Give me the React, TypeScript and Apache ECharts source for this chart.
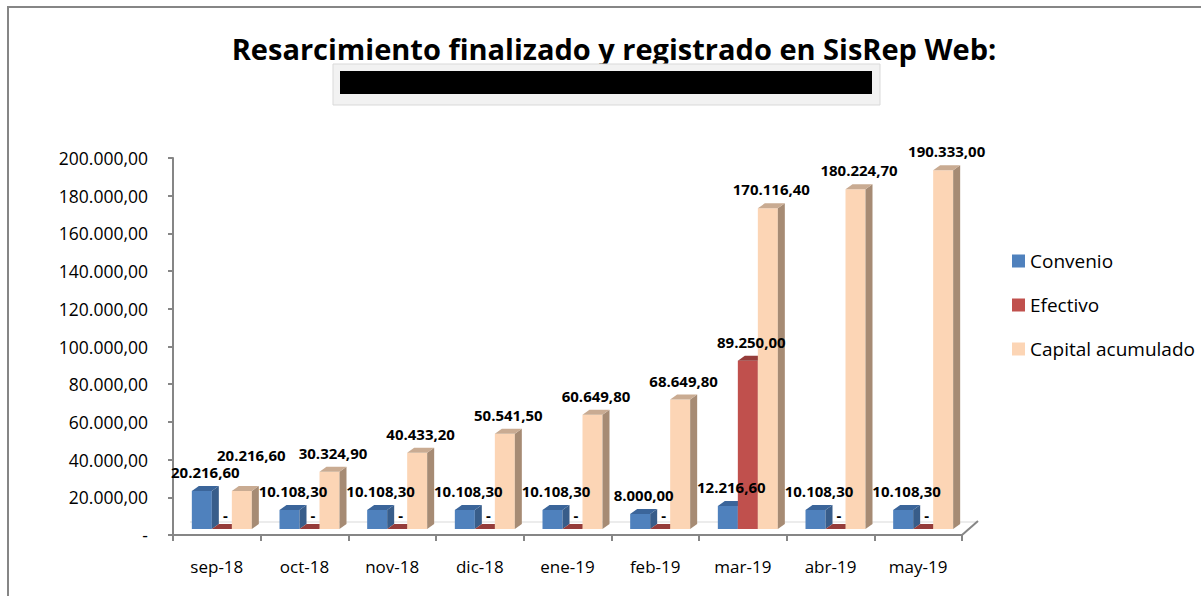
import React, { useEffect, useRef } from "react";
import * as echarts from "echarts";

const categories = ["sep-18", "oct-18", "nov-18", "dic-18", "ene-19", "feb-19", "mar-19", "abr-19", "may-19"];
const convenio = [20216.6, 10108.3, 10108.3, 10108.3, 10108.3, 8000, 12216.6, 10108.3, 10108.3];
const efectivo = [0, 0, 0, 0, 0, 0, 89250, 0, 0];
const capital = [20216.6, 30324.9, 40433.2, 50541.5, 60649.8, 68649.8, 170116.4, 180224.7, 190333];
const seriesNames = ["Convenio", "Efectivo", "Capital acumulado"];

const TITLE = "Resarcimiento finalizado y registrado en SisRep Web:";

const COLORS = [
  { front: "#4F81BD", side: "#385D8A", top: "#3B659A" },
  { front: "#C0504D", side: "#8C3A38", top: "#953C3A" },
  { front: "#FCD5B5", side: "#A68B74", top: "#C9AB92" },
];

const FONT = "'Open Sans', 'Noto Sans', sans-serif";

function fmt(v: number): string {
  if (v === 0) return "-";
  const neg = v < 0;
  const abs = Math.abs(v);
  const fixed = abs.toFixed(2);
  const [intPart, dec] = fixed.split(".");
  const withDots = intPart.replace(/\B(?=(\d{3})+(?!\d))/g, ".");
  return (neg ? "-" : "") + withDots + "," + dec;
}

const BAR_W = 20;
const BAR_OFF = -25;
const LIFT = 6;
const DX = 7;
const DY = 5;
const LABEL_GAP = 19;
const ZERO_LABEL_GAP = 14;

function makeRender(s: number) {
  const col = COLORS[s];
  return (params: any, api: any) => {
    const i = api.value(0);
    const v = api.value(1);
    const base = api.coord([i, 0]);
    const topPt = api.coord([i, v]);
    const cx = base[0];
    const x0 = cx + BAR_OFF + s * BAR_W;
    const yb = base[1] - LIFT;
    const yt = topPt[1] - LIFT;
    const x1 = x0 + BAR_W;
    let ly = yt - (v === 0 ? ZERO_LABEL_GAP : LABEL_GAP);
    let lx = x0 + BAR_W / 2 + DX / 2;
    if (s === 2) {
      const cTop = api.coord([i, convenio[i]])[1] - LIFT - LABEL_GAP;
      if (Math.abs(cTop - ly) < 16) {
        ly = cTop - 17;
        lx += 6;
      }
    }
    const children: any[] = [];
    if (yb - yt > 0) {
      children.push({
        type: "rect",
        shape: { x: x0, y: yt, width: BAR_W, height: yb - yt },
        style: { fill: col.front },
      });
      children.push({
        type: "polygon",
        shape: { points: [[x1, yt], [x1 + DX, yt - DY], [x1 + DX, yb - DY], [x1, yb]] },
        style: { fill: col.side },
      });
    }
    children.push({
      type: "polygon",
      shape: { points: [[x0, yt], [x0 + DX, yt - DY], [x1 + DX, yt - DY], [x1, yt]] },
      style: { fill: col.top },
    });
    children.push({
      type: "text",
      z2: 100,
      style: {
        x: lx,
        y: ly,
        text: fmt(v),
        fill: "#000",
        font: `bold 15px ${FONT}`,
        lineHeight: v === 0 ? 10 : 15,
        align: "center",
        verticalAlign: "middle",
      },
    });
    return { type: "group", children };
  };
}

const dataSets = [convenio, efectivo, capital];

export default function App() {
  const ref = useRef<HTMLDivElement>(null);
  useEffect(() => {
    if (!ref.current) return;
    const chart = echarts.init(ref.current, undefined, { renderer: "svg" });
    const option: any = {
      animation: false,
      backgroundColor: "#fff",
      textStyle: { fontFamily: FONT },
      grid: { left: 173, right: 239, top: 158, bottom: 61, containLabel: false },
      legend: {
        orient: "vertical",
        left: 1007,
        top: 246,
        itemWidth: 13,
        itemHeight: 13,
        itemGap: 24,
        itemStyle: { borderWidth: 0 },
        icon: "rect",
        data: seriesNames,
        textStyle: { fontSize: 19, color: "#000", fontFamily: FONT, lineHeight: 20 },
      },
      xAxis: {
        type: "category",
        data: categories,
        boundaryGap: true,
        axisLine: { lineStyle: { color: "#868686", width: 2 } },
        axisTick: { show: true, alignWithLabel: false, length: 6, lineStyle: { color: "#868686", width: 2 } },
        axisLabel: { color: "#000", fontSize: 17, margin: 23, fontFamily: FONT },
        splitLine: { show: false },
      },
      yAxis: {
        type: "value",
        min: 0,
        max: 200000,
        interval: 20000,
        axisLine: { show: true, lineStyle: { color: "#868686", width: 2 } },
        axisTick: { show: true, length: 5, lineStyle: { color: "#868686", width: 2 } },
        axisLabel: { color: "#000", fontSize: 17.5, margin: 25, fontFamily: FONT, formatter: (v: number) => fmt(v) },
        splitLine: { show: false },
      },
      graphic: [
        {
          type: "rect",
          shape: { x: 8, y: 7, width: 1400, height: 800 },
          style: { fill: "none", stroke: "#868686", lineWidth: 2 },
          silent: true,
        },
        {
          type: "text",
          style: {
            x: 614,
            y: 48,
            text: TITLE,
            font: `bold 29px ${FONT}`,
            fill: "#000",
            align: "center",
            verticalAlign: "middle",
          },
        },
        {
          type: "rect",
          shape: { x: 333, y: 64, width: 547, height: 41 },
          style: { fill: "#F2F2F2", stroke: "#D9D9D9", lineWidth: 1 },
        },
        {
          type: "rect",
          shape: { x: 340, y: 71, width: 532, height: 23 },
          style: { fill: "#000" },
        },
        {
          type: "line",
          shape: { x1: 190, y1: 522, x2: 977, y2: 522 },
          style: { stroke: "#D9D9D9", lineWidth: 1 },
          z: 0,
        },
        {
          type: "line",
          shape: { x1: 962, y1: 535, x2: 978, y2: 521 },
          style: { stroke: "#868686", lineWidth: 2 },
        },
      ],
      series: seriesNames.map((name, s) => ({
        name,
        type: "custom",
        coordinateSystem: "cartesian2d",
        itemStyle: { color: COLORS[s].front },
        renderItem: makeRender(s),
        encode: { x: 0, y: 1 },
        data: dataSets[s].map((v, i) => [i, v]),
      })),
    };
    chart.setOption(option);
    return () => chart.dispose();
  }, []);
  return <div ref={ref} style={{ position: "fixed", left: 0, top: 0, width: 1201, height: 596 }} />;
}
